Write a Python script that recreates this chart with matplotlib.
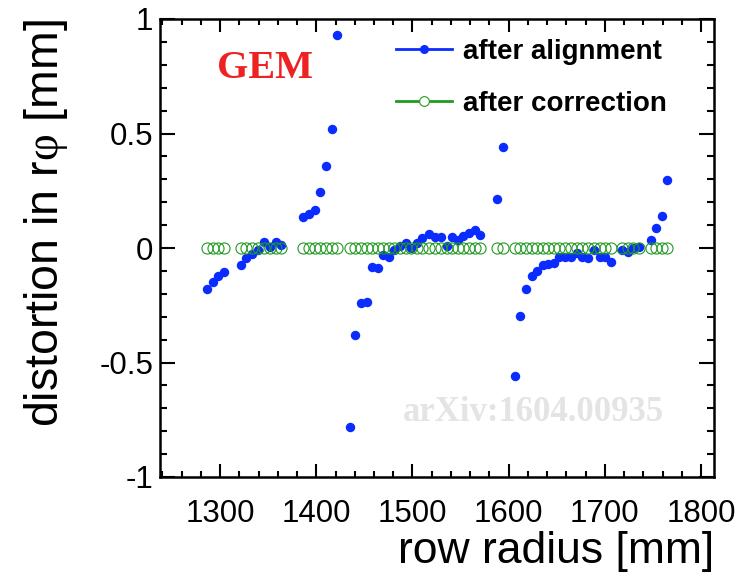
import matplotlib
matplotlib.use("Agg")
import matplotlib.pyplot as plt
from matplotlib.lines import Line2D
from matplotlib.ticker import MultipleLocator, FixedLocator, FixedFormatter

# Pad-row radii [mm], grouped by readout segment
row_radius = [
    1286.0, 1292.2, 1298.2, 1304.0,
    1321.5, 1327.3, 1333.2, 1339.1, 1345.4, 1351.6, 1357.6, 1363.7,
    1386.6, 1392.5, 1398.5, 1404.3, 1410.2, 1416.1, 1421.9,
    1435.1, 1440.3, 1446.3, 1452.5, 1458.3, 1463.9, 1469.8, 1475.7,
    1481.2, 1487.1, 1493.0, 1498.5, 1504.5, 1510.3, 1517.6, 1523.5,
    1529.4, 1535.7, 1541.5, 1547.1, 1552.9, 1558.8, 1564.8, 1570.3,
    1588.0, 1593.7,
    1606.6, 1612.2, 1618.1, 1624.0, 1629.8, 1635.4, 1641.3, 1647.2,
    1652.7, 1658.6, 1664.6, 1670.8, 1676.6, 1682.9, 1689.1, 1695.0,
    1700.5, 1706.8,
    1717.5, 1723.6, 1729.6, 1735.7,
    1747.5, 1753.3, 1759.1, 1765.0,
]

# r-phi distortion after alignment [mm]
after_alignment = [
    -0.179, -0.147, -0.121, -0.103,
    -0.076, -0.045, -0.028, -0.009, 0.028, 0.006, 0.028, 0.013,
    0.135, 0.150, 0.166, 0.245, 0.358, 0.521, 0.928,
    -0.780, -0.380, -0.242, -0.234, -0.084, -0.086, -0.031, -0.038,
    -0.009, 0.010, 0.023, -0.001, 0.020, 0.042, 0.061, 0.047,
    0.047, 0.009, 0.047, 0.035, 0.054, 0.067, 0.079, 0.057,
    0.213, 0.440,
    -0.559, -0.297, -0.179, -0.122, -0.099, -0.074, -0.070, -0.064,
    -0.038, -0.038, -0.038, -0.023, -0.038, -0.045, -0.009, -0.041,
    -0.041, -0.060,
    -0.009, -0.017, -0.001, 0.006,
    0.035, 0.086, 0.141, 0.296,
]

# r-phi distortion after correction [mm]
after_correction = [
    0.0, 0.0, 0.0, 0.0,
    0.0, 0.0, 0.0, 0.0, 0.0, 0.0, 0.0, 0.0,
    0.0, 0.0, 0.0, 0.0, 0.0, 0.0, 0.0,
    0.0, 0.0, 0.0, 0.0, 0.0, 0.0, 0.0, 0.0,
    0.0, 0.0, 0.0, 0.0, 0.0, 0.0, 0.0, 0.0,
    0.0, 0.0, 0.0, 0.0, 0.0, 0.0, 0.0, 0.0,
    0.0, 0.0,
    0.0, 0.0, 0.0, 0.0, 0.0, 0.0, 0.0, 0.0,
    0.0, 0.0, 0.0, 0.0, 0.0, 0.0, 0.0, 0.0,
    0.0, 0.0,
    0.0, 0.0, 0.0, 0.0,
    0.0, 0.0, 0.0, 0.0,
]

x_ticks = [1300, 1400, 1500, 1600, 1700, 1800]
x_ticklabels = ["1300", "1400", "1500", "1600", "1700", "1800"]
y_ticks = [-1.0, -0.5, 0.0, 0.5, 1.0]
y_ticklabels = ["-1", "-0.5", "0", "0.5", "1"]

BLUE = "#0a2cff"
GREEN = "#229922"

plt.rcParams["font.family"] = ["Liberation Sans", "DejaVu Sans"]
plt.rcParams["mathtext.fontset"] = "custom"
plt.rcParams["mathtext.rm"] = "Liberation Serif"

fig = plt.figure(figsize=(7.54, 5.76), dpi=100)
ax = fig.add_axes([160 / 754, 99 / 576, 554 / 754, 458 / 576])

ax.plot(row_radius, after_alignment, ls="none", marker="o", ms=6.8,
        mfc=BLUE, mec=BLUE, mew=0, zorder=3)
ax.plot(row_radius, after_correction, ls="none", marker="o", ms=8.0,
        mfc="none", mec=GREEN, mew=0.8, zorder=4)

ax.set_xlim(1237.5, 1813.5)
ax.set_ylim(-1, 1)

ax.xaxis.set_major_locator(FixedLocator(x_ticks))
ax.xaxis.set_major_formatter(FixedFormatter(x_ticklabels))
ax.xaxis.set_minor_locator(MultipleLocator(20))
ax.yaxis.set_major_locator(FixedLocator(y_ticks))
ax.yaxis.set_major_formatter(FixedFormatter(y_ticklabels))
ax.yaxis.set_minor_locator(MultipleLocator(0.1))

ax.tick_params(which="both", direction="in", top=True, right=True,
               width=1.5, colors="black")
ax.tick_params(axis="x", which="major", length=9.5, pad=16, labelsize=22.5)
ax.tick_params(axis="x", which="minor", length=4.5)
ax.tick_params(axis="y", which="major", length=11, pad=5, labelsize=22.5)
ax.tick_params(axis="y", which="minor", length=5)
for s in ax.spines.values():
    s.set_linewidth(1.8)

ax.set_xlabel("row radius [mm]", fontsize=32, loc="right", labelpad=1)
ax.set_ylabel(r"distortion in r$\mathrm{\varphi}$ [mm]", fontsize=33.5,
              loc="top", labelpad=21)

ax.text(0.19, 0.893, "GEM", transform=ax.transAxes, ha="center",
        va="center", color="#ee2222", fontsize=29,
        family="Liberation Serif", weight="bold")
ax.text(0.675, 0.14, "arXiv:1604.00935", transform=ax.transAxes,
        ha="center", va="center", color="#e4e4e4", fontsize=25,
        family="Liberation Serif", weight="bold", zorder=1)

handles = [
    Line2D([], [], color=BLUE, lw=2.0, marker="o", ms=5.5, mfc=BLUE, mec=BLUE),
    Line2D([], [], color=GREEN, lw=2.0, marker="o", ms=7, mfc="white",
           mec=GREEN, mew=0.8),
]
fig.legend(handles, ["after alignment", "after correction"],
           loc="upper left", bbox_to_anchor=(396 / 754, (576 - 39) / 576),
           frameon=False, borderpad=0, borderaxespad=0,
           handlelength=2.0, handletextpad=0.4, labelspacing=0.92,
           prop={"family": "Liberation Sans", "weight": "bold", "size": 20})

fig.savefig("out.png", dpi=100)
